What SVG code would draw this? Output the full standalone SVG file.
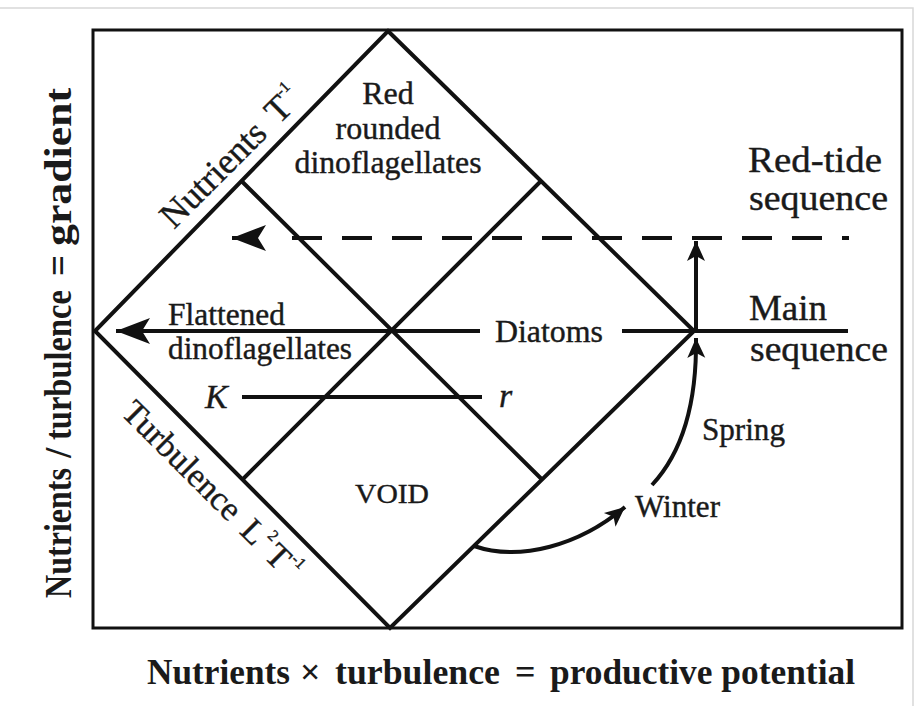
<svg xmlns="http://www.w3.org/2000/svg" width="921" height="706" viewBox="0 0 921 706">
<defs>
<style>
.ln{stroke:#111;stroke-width:4;fill:none}
.fr{stroke:#111;stroke-width:3;fill:none}
.t{font-family:"Liberation Serif","Times New Roman",serif;fill:#1a1a1a;stroke:#1a1a1a;stroke-width:0.4}
.it{font-style:italic}
.ax{font-family:"Liberation Serif","Times New Roman",serif;font-weight:bold;fill:#1a1a1a}
</style>
<marker id="big" markerUnits="userSpaceOnUse" viewBox="-38 -15 40 30" markerWidth="40" markerHeight="30" refX="0" refY="0" orient="auto">
<path d="M0 0 L-34 -13 L-26 0 L-34 13 Z" fill="#111"/>
</marker>
<marker id="small" markerUnits="userSpaceOnUse" viewBox="-22 -10 24 20" markerWidth="24" markerHeight="20" refX="0" refY="0" orient="auto">
<path d="M0 0 L-20 -9 L-15 0 L-20 9 Z" fill="#111"/>
</marker>
</defs>
<rect x="0" y="0" width="921" height="706" fill="#fff"/>
<path d="M0 8 H913 V706" stroke="#d8d8d8" stroke-width="1.5" fill="none"/>
<rect class="fr" x="93" y="30" width="809" height="598"/>

<g id="diamond">
<polygon class="ln" points="388,31 694,331 390,628 95,331"/>
<path class="ln" d="M241.5 181 L542 479.5 M541 181 L242.5 479.5"/>
</g>

<g id="connectors">
<path class="ln" d="M480 331 L116 331" marker-end="url(#big)"/>
<path class="ln" d="M622 331 L848 331"/>
<path class="ln" d="M292 238 L849 238" stroke-width="5" stroke-dasharray="30 20"/>
<path class="ln" d="M258 238 L232 238" stroke-width="5" marker-end="url(#big)"/>
<path class="ln" d="M696 331 L696 241" marker-end="url(#small)"/>
<path class="ln" d="M652 485 C680 455 697 410 696 338" marker-end="url(#small)"/>
<path class="ln" d="M474 546 C520 562 580 545 625 507" marker-end="url(#small)"/>
<path class="ln" d="M242 397 L482 397"/>
</g>

<g id="red-rounded">
<text class="t" font-size="32" text-anchor="middle" x="388" y="104">Red</text>
<text class="t" font-size="32" text-anchor="middle" x="388" y="139">rounded</text>
<text class="t" font-size="32" text-anchor="middle" x="388" y="173" textLength="187" lengthAdjust="spacingAndGlyphs">dinoflagellates</text>
</g>
<g id="red-tide">
<text class="t" font-size="36" x="748" y="172" textLength="134" lengthAdjust="spacingAndGlyphs">Red-tide</text>
<text class="t" font-size="36" x="749" y="210" textLength="139" lengthAdjust="spacingAndGlyphs">sequence</text>
</g>
<g id="main-seq">
<text class="t" font-size="36" x="749" y="320" textLength="78" lengthAdjust="spacingAndGlyphs">Main</text>
<text class="t" font-size="36" x="750" y="361" textLength="138" lengthAdjust="spacingAndGlyphs">sequence</text>
</g>
<g id="flattened">
<text class="t" font-size="31" x="168" y="325" textLength="117" lengthAdjust="spacingAndGlyphs">Flattened</text>
<text class="t" font-size="31" x="168" y="359" textLength="184" lengthAdjust="spacingAndGlyphs">dinoflagellates</text>
</g>
<g id="diatoms">
<text class="t" font-size="31" x="495" y="342" textLength="108" lengthAdjust="spacingAndGlyphs">Diatoms</text>
</g>
<g id="k-r">
<text class="t it" font-size="34" x="205" y="408">K</text>
<text class="t it" font-size="34" x="499" y="407">r</text>
</g>
<g id="void">
<text class="t" font-size="28" x="355" y="503" textLength="74" lengthAdjust="spacingAndGlyphs">VOID</text>
</g>
<g id="seasons">
<text class="t" font-size="31" x="702" y="440" textLength="83" lengthAdjust="spacingAndGlyphs">Spring</text>
<text class="t" font-size="31" x="635" y="517" textLength="85" lengthAdjust="spacingAndGlyphs">Winter</text>
</g>
<g id="nutrients-edge">
<text class="t" font-size="36" transform="translate(174 230) rotate(-45)">Nutrients<tspan dx="14">T</tspan><tspan font-size="16" dy="-18">-1</tspan></text>
</g>
<g id="turbulence-edge">
<text class="t" font-size="34" transform="translate(120 414) rotate(45)">Turbulence<tspan dx="14">L</tspan><tspan font-size="16" dx="2" dy="-17">2</tspan><tspan dx="4" dy="17">T</tspan><tspan font-size="16" dx="1" dy="-17">-1</tspan></text>
</g>
<g id="x-axis">
<text class="ax" font-size="36" y="684"><tspan x="147" textLength="143" lengthAdjust="spacingAndGlyphs">Nutrients</tspan><tspan x="300">×</tspan><tspan x="335" textLength="165" lengthAdjust="spacingAndGlyphs">turbulence</tspan><tspan x="515">=</tspan><tspan x="550" textLength="305" lengthAdjust="spacingAndGlyphs">productive potential</tspan></text>
</g>
<g id="y-axis">
<text class="ax" font-size="37" transform="translate(71 0) rotate(-90)"><tspan x="-598" textLength="130" lengthAdjust="spacingAndGlyphs">Nutrients</tspan><tspan x="-458">/</tspan><tspan x="-440" textLength="150" lengthAdjust="spacingAndGlyphs">turbulence</tspan><tspan x="-276">=</tspan><tspan x="-246" textLength="158" lengthAdjust="spacingAndGlyphs">gradient</tspan></text>
</g>
</svg>
